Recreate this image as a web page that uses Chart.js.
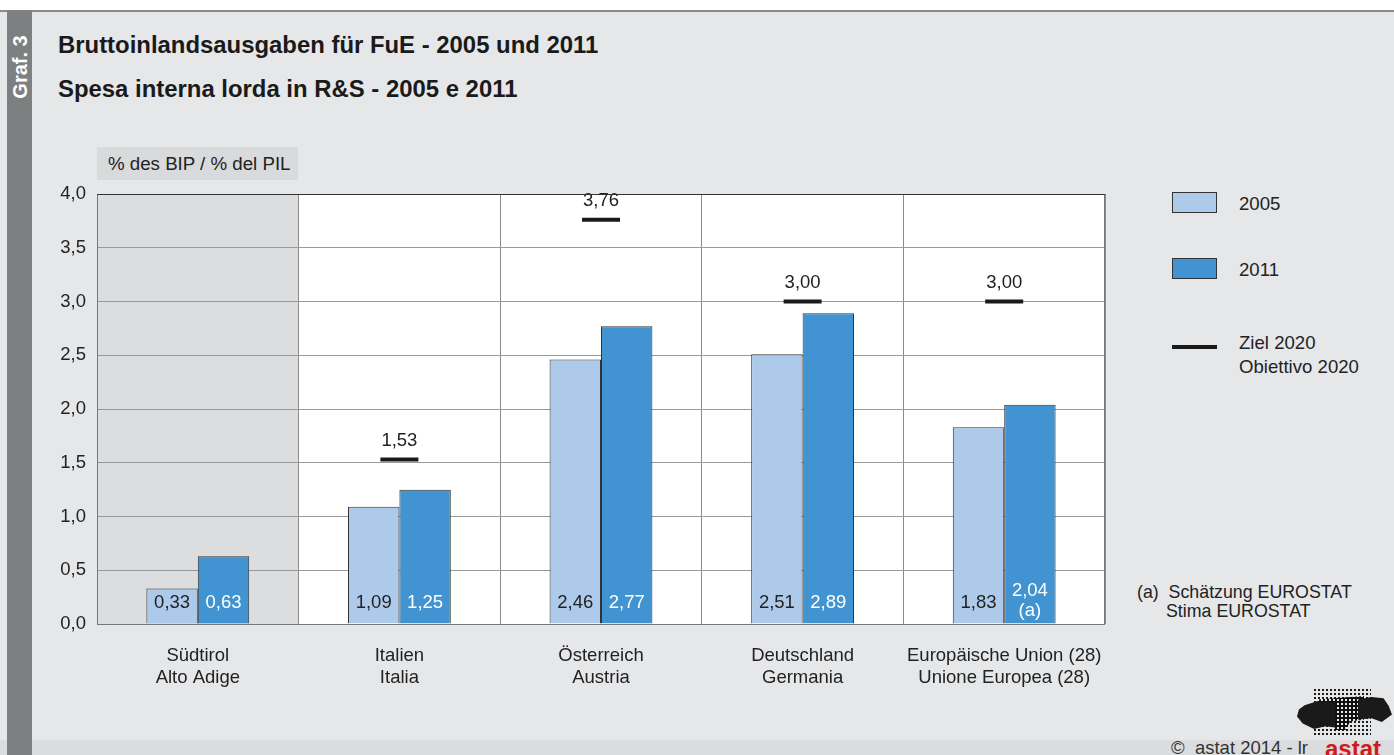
<!DOCTYPE html>
<html>
<head>
<meta charset="utf-8">
<script src="https://cdn.jsdelivr.net/npm/chart.js@4"></script>
<style>
  html, body { margin: 0; padding: 0; }
  body { width: 1394px; height: 755px; position: relative; overflow: hidden; background: #fff;
         font-family: "Liberation Sans", Arial, sans-serif; color: #222; }
  #bg { position: absolute; left: 0; top: 10px; width: 1394px; height: 745px; background: #e6e7e9; border-top: 2px solid #8a8a8a; box-sizing: border-box; }
  #foot { position: absolute; left: 0; top: 740px; width: 1394px; height: 15px; background: #dbdcde; }
  #strip { position: absolute; left: 7px; top: 10px; width: 25px; height: 745px; background: #7e7f81; }
  #graf { position: absolute; left: 20px; top: 67px; transform: translate(-50%, -50%) rotate(-90deg);
          color: #fff; font-weight: bold; font-size: 20px; white-space: nowrap; }
  .title { position: absolute; left: 58px; font-weight: bold; font-size: 23.9px; color: #1a1a1a; }
  #unit { position: absolute; left: 97px; top: 147px; width: 201px; height: 33px; background: #d9dadc;
          font-size: 18.7px; line-height: 33px; padding-left: 11px; box-sizing: border-box; }
  .lg { position: absolute; font-size: 18.6px; line-height: 24px; }
  .note { position: absolute; font-size: 17.8px; line-height: 19px; }
  #copy { position: absolute; left: 1171px; top: 737px; font-size: 18.5px; color: #333; }
  #logo { position: absolute; left: 1313px; top: 688px; width: 58px; height: 48px;
          background-image: radial-gradient(circle, #1a1a1a 1.2px, transparent 1.5px);
          background-size: 4px 4px; }
  #core { position: absolute; left: 1318px; top: 696px; width: 46px; height: 34px;
          background-image: radial-gradient(circle, #111 1.9px, transparent 2.1px);
          background-size: 4px 4px;
          clip-path: polygon(0 10%, 100% 0, 100% 70%, 70% 75%, 60% 100%, 35% 100%, 30% 75%, 0 80%); }
  #blobL { position: absolute; left: 1297px; top: 701px; width: 38px; height: 28px; background: #1a1a1a;
          clip-path: polygon(20% 15%, 55% 0, 100% 5%, 100% 95%, 75% 90%, 45% 100%, 15% 80%, 0 55%, 5% 30%); }
  #blobR { position: absolute; left: 1358px; top: 697px; width: 34px; height: 25px; background: #1a1a1a;
          clip-path: polygon(0 10%, 40% 0, 75% 5%, 90% 35%, 100% 70%, 70% 100%, 40% 85%, 0 90%); }
  #astat { position: absolute; left: 1325px; top: 735px; font-size: 24px; font-weight: bold; color: #d0191e; }
  canvas { position: absolute; left: 0; top: 0; }
</style>
</head>
<body>
<div id="bg"></div>
<div id="foot"></div>
<div id="strip"></div>
<div id="graf">Graf. 3</div>
<div class="title" style="top:31px">Bruttoinlandsausgaben für FuE - 2005 und 2011</div>
<div class="title" style="top:75px">Spesa interna lorda in R&amp;S - 2005 e 2011</div>
<div id="unit">% des BIP / % del PIL</div>
<div id="legend"></div>
<div class="note" style="left:1137px; top:583px">(a)&nbsp; Schätzung EUROSTAT</div>
<div class="note" style="left:1166px; top:602px">Stima EUROSTAT</div>
<div id="logo"></div>
<div id="core"></div>
<div id="blobL"></div>
<div id="blobR"></div>
<div id="astat">astat</div>
<div id="copy">©&nbsp; astat 2014 - lr</div>
<canvas id="c" width="1394" height="755"></canvas>
<script>
const categories = [
  ["Südtirol", "Alto Adige"],
  ["Italien", "Italia"],
  ["Österreich", "Austria"],
  ["Deutschland", "Germania"],
  ["Europäische Union (28)", "Unione Europea (28)"]
];
const values2005 = [0.33, 1.09, 2.46, 2.51, 1.83];
const values2011 = [0.63, 1.25, 2.77, 2.89, 2.04];
const target2020 = [null, 1.53, 3.76, 3.00, 3.00];
const notes2011 = ["", "", "", "", "(a)"];
const yTicks = [0, 0.5, 1, 1.5, 2, 2.5, 3, 3.5, 4];

const C2005 = "#aecaea";
const C2011 = "#4194d1";
const FONT = "'Liberation Sans', Arial, sans-serif";

function fmt(v, d) {
  return v.toFixed(d).replace(".", ",");
}

// Legend as HTML
(function () {
  const lg = document.getElementById("legend");
  const items = [
    { label: ["2005"], top: 192, kind: "box", color: C2005 },
    { label: ["2011"], top: 258, kind: "box", color: C2011 },
    { label: ["Ziel 2020", "Obiettivo 2020"], top: 331, kind: "line" }
  ];
  items.forEach((it) => {
    const m = document.createElement("div");
    m.style.position = "absolute";
    if (it.kind === "box") {
      m.style.left = "1172px"; m.style.top = it.top + "px";
      m.style.width = "43px"; m.style.height = "19px";
      m.style.background = it.color; m.style.border = "1px solid #333";
    } else {
      m.style.left = "1172px"; m.style.top = (it.top + 14) + "px";
      m.style.width = "45px"; m.style.height = "4px"; m.style.background = "#1a1a1a";
    }
    lg.appendChild(m);
    const t = document.createElement("div");
    t.className = "lg";
    t.style.left = "1239px";
    t.style.top = (it.top) + "px";
    t.innerHTML = it.label.join("<br>");
    lg.appendChild(t);
  });
})();

const plotDeco = {
  id: "plotDeco",
  beforeDraw(chart) {
    const { ctx, chartArea: a, scales } = chart;
    const x = scales.x;
    const step = x.getPixelForValue(1) - x.getPixelForValue(0);
    ctx.save();
    ctx.fillStyle = "#ffffff";
    ctx.fillRect(a.left, a.top, a.right - a.left, a.bottom - a.top);
    ctx.fillStyle = "#dcdddf";
    ctx.fillRect(a.left, a.top, step, a.bottom - a.top);
    ctx.restore();
  },
  afterDatasetsDraw(chart) {
    const { ctx, chartArea: a } = chart;
    ctx.save();
    ctx.font = "18.5px " + FONT;
    ctx.textAlign = "center";
    ctx.textBaseline = "middle";
    // values inside bars
    [0, 1].forEach((di) => {
      const meta = chart.getDatasetMeta(di);
      const vals = di === 0 ? values2005 : values2011;
      meta.data.forEach((bar, i) => {
        ctx.fillStyle = di === 0 ? "#222" : "#fff";
        if (di === 1 && notes2011[i]) {
          ctx.fillText(fmt(vals[i], 2), bar.x, a.bottom - 33);
          ctx.fillText(notes2011[i], bar.x, a.bottom - 13);
        } else {
          ctx.fillText(fmt(vals[i], 2), bar.x, a.bottom - 21);
        }
      });
    });
    // target labels
    const tm = chart.getDatasetMeta(2);
    ctx.fillStyle = "#222";
    tm.data.forEach((pt, i) => {
      if (target2020[i] == null) return;
      ctx.fillText(fmt(target2020[i], 2), pt.x, pt.y - 19);
    });
    // frame
    ctx.strokeStyle = "#777";
    ctx.lineWidth = 1;
    ctx.strokeRect(a.left + 0.5, a.top + 0.5, a.right - a.left - 1, a.bottom - a.top);
    ctx.strokeStyle = "#333";
    ctx.beginPath();
    ctx.moveTo(a.left, a.top + 0.5);
    ctx.lineTo(a.right, a.top + 0.5);
    ctx.stroke();
    ctx.restore();
  }
};

new Chart(document.getElementById("c").getContext("2d"), {
  type: "bar",
  data: {
    labels: categories,
    datasets: [
      { label: "2005", data: values2005, backgroundColor: C2005, borderColor: "#333", borderWidth: 1,
        categoryPercentage: 0.51, barPercentage: 1, order: 2 },
      { label: "2011", data: values2011, backgroundColor: C2011, borderColor: "#333", borderWidth: 1,
        categoryPercentage: 0.51, barPercentage: 1, order: 2 },
      { type: "line", label: "Ziel 2020", data: target2020, showLine: false,
        pointStyle: "line", pointRadius: 19, pointHoverRadius: 19, borderColor: "#1a1a1a",
        backgroundColor: "#1a1a1a", pointBorderWidth: 4, borderWidth: 4, order: 1 }
    ]
  },
  options: {
    responsive: false,
    animation: false,
    devicePixelRatio: 1,
    layout: { padding: { left: 40, top: 194, right: 289, bottom: 31 } },
    plugins: { legend: { display: false }, tooltip: { enabled: false } },
    scales: {
      x: {
        grid: { offset: true, color: "#8a8a8a", lineWidth: 1, drawTicks: false },
        border: { display: false },
        ticks: {
          color: "#222",
          font: { size: 18.5, family: FONT, lineHeight: 1.2 },
          padding: 21,
          maxRotation: 0
        },
        afterFit(scale) { scale.height = 100; }
      },
      y: {
        min: 0,
        max: 4,
        grid: { color: "#999", lineWidth: 1, drawTicks: false },
        border: { display: false },
        afterBuildTicks(scale) { scale.ticks = yTicks.map((v) => ({ value: v })); },
        ticks: {
          color: "#222",
          font: { size: 18.5, family: FONT },
          padding: 11,
          callback: (v) => fmt(Number(v), 1)
        },
        afterFit(scale) { scale.width = 57; }
      }
    }
  },
  plugins: [plotDeco]
});
</script>
</body>
</html>
